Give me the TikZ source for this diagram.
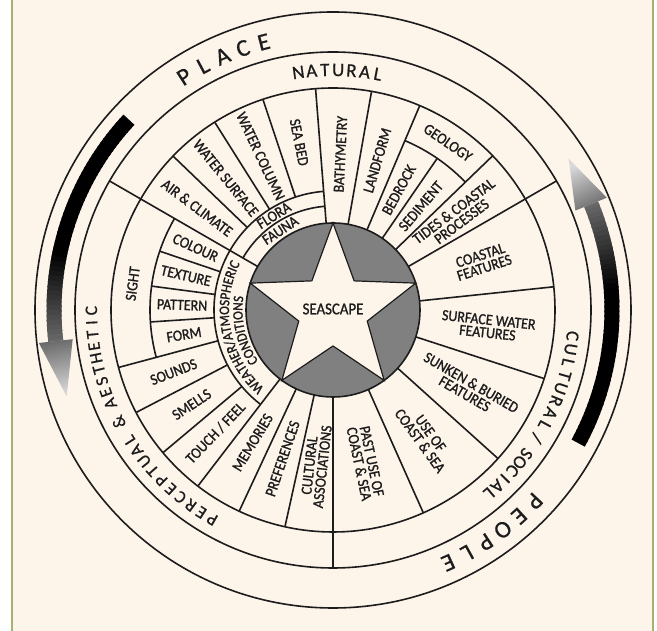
\documentclass[tikz,border=0pt]{standalone}
\usepackage{fontspec}
\setmainfont{Carlito}[FakeBold=0.7]
\newfontfamily\labfont[FakeStretch=0.9,FakeBold=1.1]{Carlito}
\usetikzlibrary{decorations.text}
\definecolor{bg}{HTML}{FDF4EA}
\definecolor{frame}{HTML}{A4B373}
\definecolor{ink}{HTML}{1C1C1C}
\definecolor{disc}{HTML}{808080}
\newcommand\rline[3]{\draw[ln] (#1:#2) -- (#1:#3);}
\newcommand\arcseg[3]{\draw[ln] (#2:#1) arc[start angle=#2, end angle=#3, radius=#1];}
\newcommand\arcword[6]{% name, r_base, start, step, size, letters
  \foreach \lett [count=\i] in {#6} {
    \pgfmathsetmacro\aa{#3-(\i-1)*(#4)}
    \node[text=ink, font=\fontsize{#5}{#5}\selectfont, rotate=\aa-90, anchor=base, inner sep=0pt] (#1-\i) at (\aa:#2) {\lett};
  }}
\begin{document}
\begin{tikzpicture}[x=1pt,y=1pt,
  ln/.style={draw=ink, line width=1.6pt},
  lab/.style={font=\labfont\fontsize{15.5}{13}\selectfont, text=ink, align=center, inner sep=0pt}]
\useasboundingbox (0,0) rectangle (657,631);
\fill[white] (0,0) rectangle (657,631);
\fill[bg] (12,0) rectangle (653,631);
\fill[frame] (11,0) rectangle (13.2,631);
\fill[frame] (651.8,0) rectangle (654,631);
\begin{scope}[shift={(333,321)}]
  % arrows
  \foreach \a in {137,...,186} {
    \pgfmathsetmacro\b{min(\a+1.4,186.4)}
    \pgfmathsetmacro\g{\a<168 ? 100 : 100-(\a-168)/18.4*42}
    \fill[black!\g] (\a:271.5) arc[start angle=\a, end angle=\b, radius=271.5] -- (\b:286.5) arc[start angle=\b, end angle=\a, radius=286.5] -- cycle;
  }
  \shade[top color=black!58, bottom color=black!15, shading angle=11.2] (186.4:262) -- (198:280) -- (186.4:296) -- cycle;
  \foreach \a in {-28.5,-27.5,...,21.5} {
    \pgfmathsetmacro\b{min(\a+1.4,22.3)}
    \pgfmathsetmacro\g{\a<4 ? 100 : 100-(\a-4)/18.3*42}
    \fill[black!\g] (\a:271.5) arc[start angle=\a, end angle=\b, radius=271.5] -- (\b:286.5) arc[start angle=\b, end angle=\a, radius=286.5] -- cycle;
  }
  \shade[bottom color=black!58, top color=black!15, shading angle=26.4] (22.3:262) -- (32.7:280) -- (22.3:296) -- cycle;
  % circles
  \draw[ln] (0,0) circle[radius=298];
  \draw[ln] (0,0) circle[radius=258];
  \draw[ln] (0,0) circle[radius=222];
  \fill[disc] (0,0) circle[radius=87];
  \draw[ink, line width=1.2pt, fill=bg] (90:87) -- (126:36) -- (162:87) -- (198:36) -- (234:87) -- (270:36) -- (306:87) -- (342:36) -- (18:87) -- (54:36) -- cycle;
  \draw[ln] (0,0) circle[radius=87];
  % main dividers
  \rline{30}{87}{258}
  \rline{150}{87}{258}
  \rline{270}{87}{258}
  % natural
  \rline{44}{87}{222}
  \rline{67}{87}{222}
  \rline{80}{87}{222}
  \rline{94.5}{87}{222}
  \rline{55.5}{87}{184}
  \arcseg{184}{44}{67}
  \arcseg{104}{94.5}{150}
  \arcseg{119}{94.5}{150}
  \rline{108.4}{119}{222}
  \rline{122.2}{119}{222}
  \rline{136.1}{119}{222}
  % cultural
  \rline{6}{87}{222}
  \rline{-18}{87}{222}
  \rline{-42}{87}{222}
  \rline{-66}{87}{222}
  % perceptual
  \rline{232.5}{87}{222}
  \rline{245}{87}{222}
  \rline{257.5}{87}{222}
  \arcseg{119}{150}{232.5}
  \rline{195}{119}{222}
  \rline{207.5}{119}{222}
  \rline{220}{119}{222}
  \arcseg{183}{150}{195}
  \rline{161.25}{119}{183}
  \rline{172.5}{119}{183}
  \rline{183.75}{119}{183}
  % ring titles
  \arcword{pl}{269}{122.5}{4.5}{24}{P,L,A,C,E}
  \arcword{po}{270}{-43.5}{4.4}{24}{P,E,O,P,L,E}
  \arcword{na}{234}{98.3}{3.18}{19}{N,A,T,U,R,A,L}
  \arcword{pe}{236}{240}{3.05}{17.5}{P,E,R,C,E,P,T,U,A,L}
  \arcword{am}{236}{207.6}{1}{17.5}{\&}
  \arcword{ae}{236}{202.8}{2.83}{17.5}{A,E,S,T,H,E,T,I,C}
  \arcword{cu}{235}{-6.2}{3.2}{18.5}{C,U,L,T,U,R,A,L}
  \arcword{sl}{235}{-32.2}{1}{18.5}{/}
  \arcword{so}{235}{-36.6}{2.6}{18.5}{S,O,C,I,A,L}
  % natural labels
  \node[lab, rotate=37] (tides) at (37:156) {TIDES \& COASTAL\\PROCESSES};
  \node[lab, rotate=49.75] (sed) at (49.75:136) {SEDIMENT};
  \node[lab, rotate=61.25] (bed) at (61.25:137) {BEDROCK};
  \node[lab, rotate=-34.5] (geo) at (55.5:203) {GEOLOGY};
  \node[lab, rotate=73.5] (land) at (73.5:156) {LANDFORM};
  \node[lab, rotate=87.25] (bath) at (87.25:156) {BATHYMETRY};
  \node[lab, rotate=-78.6] (seabed) at (101.4:171) {SEA BED};
  \node[lab, rotate=-64.8] (wcol) at (115.2:170) {WATER COLUMN};
  \node[lab, rotate=-50.9] (wsurf) at (129.1:170) {WATER SURFACE};
  \node[lab, rotate=-37] (air) at (143:170) {AIR \& CLIMATE};
  \node[lab, rotate=32] (flora) at (122:111.5) {FLORA};
  \node[lab, rotate=33.5] (fauna) at (123.5:95.5) {FAUNA};
  % cultural labels
  \node[lab, rotate=18] (coast) at (18:157) {COASTAL\\FEATURES};
  \node[lab, rotate=-6] (surf) at (-6:156) {SURFACE WATER\\FEATURES};
  \node[lab, rotate=-30] (sunk) at (-30:156) {SUNKEN \& BURIED\\FEATURES};
  \node[lab, rotate=-54] (use) at (-54:157) {USE OF\\COAST \& SEA};
  \node[lab, rotate=-78] (past) at (-78:156) {PAST USE OF\\COAST \& SEA};
  % perceptual labels
  \node[lab, rotate=83.75] (cass) at (263.75:157) {CULTURAL\\ASSOCIATIONS};
  \node[lab, rotate=71.25] (pref) at (251.25:157) {PREFERENCES};
  \node[lab, rotate=58.75] (mem) at (238.75:155) {MEMORIES};
  \node[lab, rotate=46.25] (touch) at (226.25:170) {TOUCH / FEEL};
  \node[lab, rotate=33.75] (smell) at (213.75:170) {SMELLS};
  \node[lab, rotate=21.25] (sound) at (201.25:171) {SOUNDS};
  \node[lab, rotate=82.5] (sight) at (172.5:202) {SIGHT};
  \node[lab, rotate=-24.4] (col) at (155.6:151) {COLOUR};
  \node[lab, rotate=-13.1] (tex) at (166.9:151) {TEXTURE};
  \node[lab, rotate=-1.9] (pat) at (178.1:151) {PATTERN};
  \node[lab, rotate=9.4] (form) at (189.4:151) {FORM};
  \path[decorate, decoration={text along path, text color=ink, text={|\labfont\fontsize{14.5}{14.5}\selectfont|WEATHER/ATMOSPHERIC}, text align=center}] (241:104) arc[start angle=241, end angle=141, radius=104];
  \path[decorate, decoration={text along path, text color=ink, text={|\labfont\fontsize{14.5}{14.5}\selectfont|CONDITIONS}, text align=center}] (243:90.5) arc[start angle=243, end angle=143, radius=90.5];
  \node[lab, font=\labfont\fontsize{16.5}{16.5}\selectfont] (sea) at (0,1) {SEASCAPE};
\end{scope}
\end{tikzpicture}
\end{document}
